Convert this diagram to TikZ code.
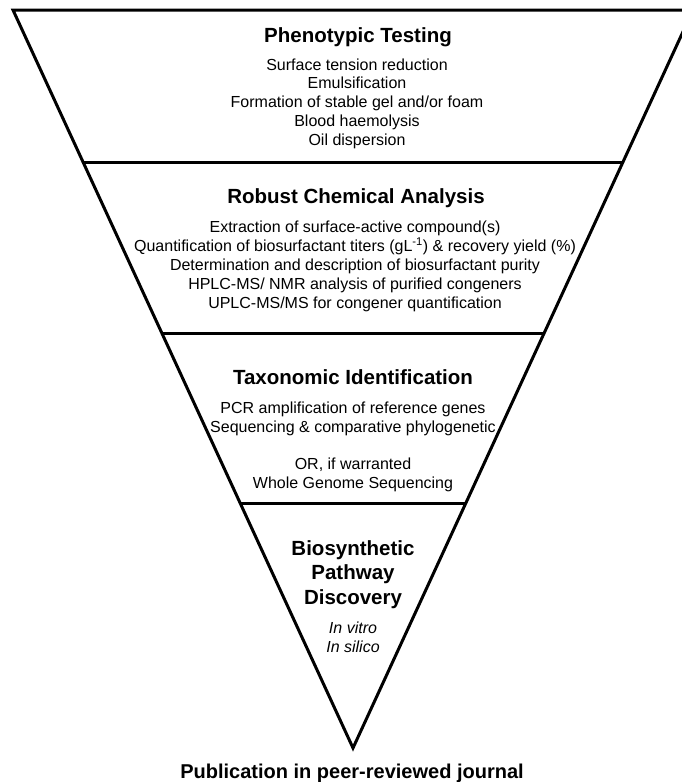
\documentclass[tikz,border=0pt]{standalone}
\usepackage{fontspec}
\setmainfont{Liberation Sans}
\usetikzlibrary{calc}
\begin{document}
\begin{tikzpicture}[x=1pt,y=-1pt,
  funnel/.style={line width=3pt, line join=miter},
  divider/.style={line width=3pt},
  % multi-line nodes are placed by the baseline of their last line
  heading/.style={font=\fontsize{20.5}{24.5}\selectfont\bfseries, align=center, inner sep=0pt, anchor=base},
  items/.style={font=\fontsize{16}{18.9}\selectfont, align=center, inner sep=0pt, anchor=base},
]
\useasboundingbox (0,0) rectangle (682,782);

% corners of the inverted triangle
\coordinate (tl) at (13,10);
\coordinate (tr) at (693,10);
\coordinate (apex) at (353,748);

\begin{scope}
  \clip (0,0) rectangle (682,782);
  \draw[funnel] (tl) -- (apex) -- (tr) -- cycle;
\end{scope}

% level dividers, ending on the slanted sides
\foreach \n/\y in {a/163,b/333,c/503} {
  \coordinate (\n L) at ($(tl)!{(\y-10)/738}!(apex)$);
  \coordinate (\n R) at ($(tr)!{(\y-10)/738}!(apex)$);
}
\draw[divider] (aL) -- (aR);
\draw[divider] (bL) -- (bR);
\draw[divider] (cL) -- (cR);

% level 1
\node[heading] (pheno) at (358,42) {Phenotypic Testing};
\node[items] (phenoitems) at (357,145.6) {Surface tension reduction\\Emulsification\\Formation of stable gel and/or foam\\Blood haemolysis\\Oil dispersion};

% level 2
\node[heading] (chem) at (356,203) {Robust Chemical Analysis};
\node[items] (chemitems) at (355,308) {Extraction of surface-active compound(s)\\Quantification of biosurfactant titers (gL\textsuperscript{-1}) \& recovery yield (\%)\\Determination and description of biosurfactant purity\\HPLC-MS/ NMR analysis of purified congeners\\UPLC-MS/MS for congener quantification};

% level 3
\node[heading] (taxo) at (353,384) {Taxonomic Identification};
\node[items] (taxoitems) at (353,432.5) {PCR amplification of reference genes\\Sequencing \& comparative phylogenetic};
\node[items] (taxoalt) at (353,488) {OR, if warranted\\Whole Genome Sequencing};

% level 4
\node[heading] (bio) at (353,604) {Biosynthetic\\Pathway\\Discovery};
\node[items, font=\fontsize{16}{18.9}\selectfont\itshape] (bioitems) at (353,652.5) {In vitro\\In silico};

% outcome below the apex
\node[heading, font=\fontsize{20}{24}\selectfont\bfseries] (pub) at (352,778) {Publication in peer-reviewed journal};
\end{tikzpicture}
\end{document}
